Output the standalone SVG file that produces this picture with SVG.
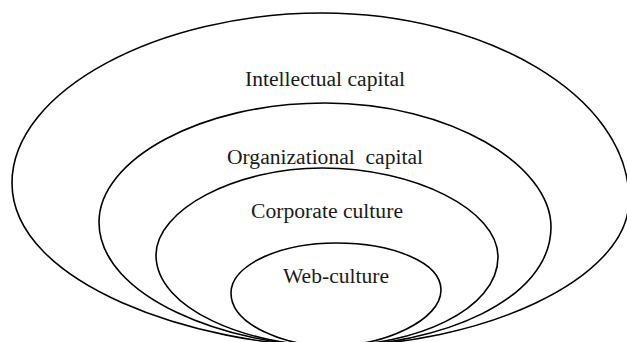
<svg xmlns="http://www.w3.org/2000/svg" width="627" height="342" viewBox="0 0 627 342">
<style>
.ring{fill:none;stroke:#000;stroke-width:1.6}
.lbl{font-family:"Liberation Serif","Times New Roman",serif;font-size:20px;fill:#1a1a1a;text-anchor:middle}
</style>
<rect width="627" height="342" fill="#fff"/>
<g id="intellectual-capital">
<path class="ring" d="M330,346 C200,346 12,285 12,183 C12,90 160,13 322,13 C484,13 629,95 629,200 C629,280 480,346 330,346 Z"/>
<text class="lbl" x="325" y="86" textLength="160" lengthAdjust="spacingAndGlyphs">Intellectual capital</text>
</g>
<g id="organizational-capital">
<path class="ring" d="M330,346 C230,346 99,298 99,222 C99,160 200,103 325,103 C450,103 551,165 551,227 C551,300 440,346 330,346 Z"/>
<text class="lbl" x="325" y="164" textLength="196" lengthAdjust="spacingAndGlyphs" xml:space="preserve">Organizational  capital</text>
</g>
<g id="corporate-culture">
<path class="ring" d="M330,346 C250,346 156,310 156,255 C156,210 235,168 322,168 C415,168 498,210 498,257 C498,310 415,346 330,346 Z"/>
<text class="lbl" x="327" y="218" textLength="152" lengthAdjust="spacingAndGlyphs">Corporate culture</text>
</g>
<g id="web-culture">
<path class="ring" d="M330,346 C285,346 231,325 231,293 C231,265 280,243 336,243 C392,243 441,262 441,290 C441,320 385,346 330,346 Z"/>
<text class="lbl" x="336" y="283" textLength="106" lengthAdjust="spacingAndGlyphs">Web-culture</text>
</g>
<g id="connectors"/>
</svg>
